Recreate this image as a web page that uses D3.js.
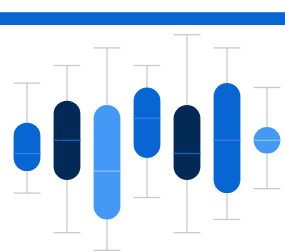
<!DOCTYPE html>
<html lang="en">
  <head>
    <meta charset="utf-8">
    <title>box plot</title>
    <style>
      body { margin: 0; background: #fff; }
      .whisker { stroke: #c6c9d2; stroke-width: 1.3; }
    </style>
    <script src="https://d3js.org/d3.v7.min.js"></script>
  </head>
  <body>
    <script>

    var categories = ["A", "B", "C", "D", "E", "F", "G"];
    var lows    = [18,  9,  5, 17,  9, 12, 19];
    var q1s     = [23, 21, 12, 26, 21, 18, 27];
    var medians = [27, 30, 23, 35, 27, 30, 30];
    var q3s     = [34, 39, 38, 42, 38, 43, 33];
    var highs   = [43, 47, 51, 47, 54, 51, 42];
    var shades  = ["mid", "dark", "light", "mid", "dark", "mid", "light"];

    var fills   = {dark: "#032a57", mid: "#0866d3", light: "#4499f7"};
    var medCols = {dark: "#0a63c8", mid: "#3483e4", light: "#8cc0fb"};

    var w = 285, h = 252;

    var svg = d3.select("body")
                .append("svg")
                .attr("width", w)
                .attr("height", h);

    // header band
    svg.append("rect")
       .attr("x", 0).attr("y", 12)
       .attr("width", w).attr("height", 13)
       .attr("fill", "#0866d0");
    svg.append("rect")
       .attr("x", 0).attr("y", 12)
       .attr("width", w).attr("height", 1)
       .attr("fill", "#3f88dc");

    var data = categories.map(function(c, i) {
      return {cat: c, lo: lows[i], q1: q1s[i], med: medians[i], q3: q3s[i], hi: highs[i], shade: shades[i]};
    });

    var xS = d3.scaleBand()
               .domain(categories)
               .range([7, 287])
               .paddingInner(0.33)
               .paddingOuter(0.165);

    var yS = d3.scaleLinear()
               .domain([0, 60])
               .range([272.3, 8.3]);

    var bw = xS.bandwidth();

    var g = svg.selectAll("g.box")
               .data(data)
               .enter()
               .append("g")
               .attr("class", "box")
               .attr("transform", function(d) { return "translate(" + xS(d.cat) + ",0)"; });

    // whisker stem
    g.append("line")
     .attr("class", "whisker")
     .attr("x1", bw / 2).attr("x2", bw / 2)
     .attr("y1", function(d) { return yS(d.hi); })
     .attr("y2", function(d) { return yS(d.lo); });

    // caps
    g.append("line")
     .attr("class", "whisker")
     .attr("x1", 0).attr("x2", bw)
     .attr("y1", function(d) { return yS(d.hi); })
     .attr("y2", function(d) { return yS(d.hi); });
    g.append("line")
     .attr("class", "whisker")
     .attr("x1", 0).attr("x2", bw)
     .attr("y1", function(d) { return yS(d.lo); })
     .attr("y2", function(d) { return yS(d.lo); });

    // box, fully rounded ends
    g.append("rect")
     .attr("x", 0)
     .attr("width", bw)
     .attr("y", function(d) { return yS(d.q3); })
     .attr("height", function(d) { return yS(d.q1) - yS(d.q3); })
     .attr("rx", bw / 2)
     .attr("fill", function(d) { return fills[d.shade]; });

    // median
    g.append("line")
     .attr("x1", 0).attr("x2", bw)
     .attr("y1", function(d) { return yS(d.med); })
     .attr("y2", function(d) { return yS(d.med); })
     .attr("stroke", function(d) { return medCols[d.shade]; })
     .attr("stroke-width", 1.3);

    </script>
  </body>
</html>
